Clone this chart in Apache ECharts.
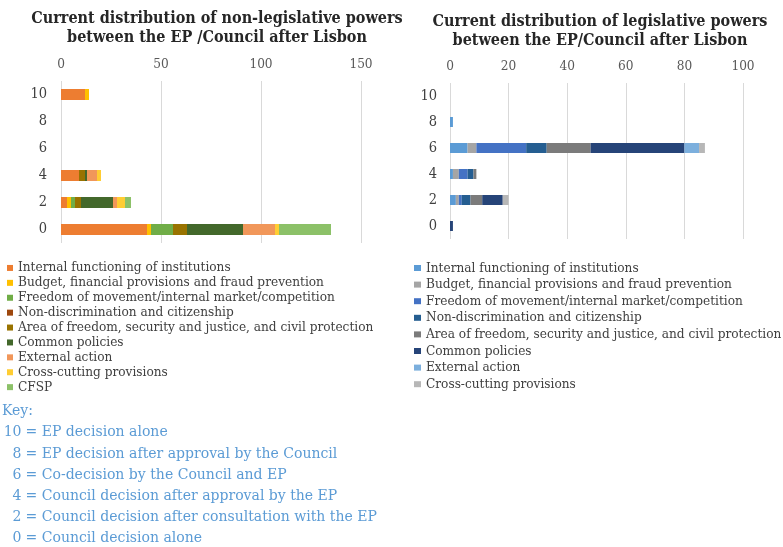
<!DOCTYPE html>
<html>
<head>
<meta charset="utf-8">
<script src="https://cdn.jsdelivr.net/npm/echarts@6/dist/echarts.min.js"></script>
<style>
  html, body { margin: 0; padding: 0; background: #fff; }
  #chart { width: 783px; height: 547px; }
</style>
</head>
<body>
<div id="chart"></div>
<script>
// Score scale: 0 = Council alone ... 10 = EP alone (bottom to top)
const scores = ['0', '2', '4', '6', '8', '10'];

const policyAreasNonLeg = [
  'Internal functioning of institutions',
  'Budget, financial provisions and fraud prevention',
  'Freedom of movement/internal market/competition',
  'Non-discrimination and citizenship',
  'Area of freedom, security and justice, and civil protection',
  'Common policies',
  'External action',
  'Cross-cutting provisions',
  'CFSP'
];
const policyAreasLeg = policyAreasNonLeg.slice(0, 8);

// Number of non-legislative provisions per score (0,2,4,6,8,10)
const nonLegInternal    = [43, 3, 9, 0, 0, 12];
const nonLegBudget      = [2, 2, 0, 0, 0, 2];
const nonLegFreedom     = [11, 2, 0, 0, 0, 0];
const nonLegNonDisc     = [0, 0, 0, 0, 0, 0];
const nonLegArea        = [7, 3, 3, 0, 0, 0];
const nonLegCommon      = [28, 16, 1, 0, 0, 0];
const nonLegExternal    = [16, 2, 5, 0, 0, 0];
const nonLegCrossCut    = [2, 4, 2, 0, 0, 0];
const nonLegCFSP        = [26, 3, 0, 0, 0, 0];

// Number of legislative provisions per score (0,2,4,6,8,10)
const legInternal = [0, 2, 1, 6, 1, 0];
const legBudget   = [0, 1, 2, 3, 0, 0];
const legFreedom  = [0, 1, 3, 17, 0, 0];
const legNonDisc  = [0, 3, 2, 7, 0, 0];
const legArea     = [0, 4, 1, 15, 0, 0];
const legCommon   = [1, 7, 0, 32, 0, 0];
const legExternal = [0, 0, 0, 5, 0, 0];
const legCrossCut = [0, 2, 0, 2, 0, 0];

const nonLegValues = [nonLegInternal, nonLegBudget, nonLegFreedom, nonLegNonDisc,
  nonLegArea, nonLegCommon, nonLegExternal, nonLegCrossCut, nonLegCFSP];
const legValues = [legInternal, legBudget, legFreedom, legNonDisc,
  legArea, legCommon, legExternal, legCrossCut];

const nonLegColors = ['#ED7D31', '#FFC000', '#70AD47', '#9E480E', '#997300',
  '#43682B', '#F1975A', '#FFCD33', '#8CC168'];
const legColors = ['#5B9BD5', '#A5A5A5', '#4472C4', '#255E91', '#7B7B7B',
  '#264478', '#7CAFDD', '#B7B7B7'];

const keyNumbers = ['10', '8', '6', '4', '2', '0'];
const keyTexts = [
  '= EP decision alone',
  '= EP decision after approval by the Council',
  '= Co-decision by the Council and EP',
  '= Council decision after approval by the EP',
  '= Council decision after consultation with the EP',
  '= Council decision alone'
];

const FONT = '"DejaVu Serif Condensed", "DejaVu Serif", serif';
const gridLine = { show: true, lineStyle: { color: '#D9D9D9', width: 1 } };

function valueAxis(gridIndex, max, interval) {
  return {
    type: 'value', gridIndex, position: 'top', min: 0, max, interval,
    axisLine: { show: false }, axisTick: { show: false },
    splitLine: gridLine,
    axisLabel: { color: '#595959', fontFamily: FONT, fontSize: 13.5, margin: 10 }
  };
}
function categoryAxis(gridIndex, margin) {
  return {
    type: 'category', gridIndex, data: scores,
    axisLine: { show: false }, axisTick: { show: false },
    axisLabel: { color: '#404040', fontFamily: FONT, fontSize: 14.5, margin }
  };
}

const series = [];
policyAreasNonLeg.forEach((name, i) => {
  series.push({
    type: 'bar', name, stack: 'nonleg', xAxisIndex: 0, yAxisIndex: 0,
    barWidth: 11, data: nonLegValues[i],
    itemStyle: { color: nonLegColors[i] }
  });
});
policyAreasLeg.forEach((name, i) => {
  series.push({
    type: 'bar', name, stack: 'leg', xAxisIndex: 1, yAxisIndex: 1,
    barWidth: 10, data: legValues[i],
    itemStyle: { color: legColors[i] }
  });
});

const KEY_FONT = '15.6px ' + FONT;
const keyGraphics = [{
  type: 'text', x: 2, y: 411,
  style: { text: 'Key:', font: KEY_FONT, fill: '#5B9BD5', verticalAlign: 'middle' }
}];
keyNumbers.forEach((n, i) => {
  const y = 432.3 + i * 21.2;
  keyGraphics.push({
    type: 'text', x: 21.5, y,
    style: { text: n, font: KEY_FONT, fill: '#5B9BD5', align: 'right', verticalAlign: 'middle' }
  });
  keyGraphics.push({
    type: 'text', x: 25.5, y,
    style: { text: keyTexts[i], font: KEY_FONT, fill: '#5B9BD5', align: 'left', verticalAlign: 'middle' }
  });
});

const legendText = { color: '#404040', fontFamily: FONT, fontSize: 13.5 };

const option = {
  animation: false,
  backgroundColor: '#ffffff',
  title: [
    {
      text: 'Current distribution of non-legislative powers\nbetween the EP /Council after Lisbon',
      left: 212, top: 4, textAlign: 'center',
      textStyle: { fontFamily: FONT, fontWeight: 'bold', fontSize: 16, color: '#262626', lineHeight: 19 }
    },
    {
      text: 'Current distribution of legislative powers\nbetween the EP/Council after Lisbon',
      left: 595, top: 7, textAlign: 'center',
      textStyle: { fontFamily: FONT, fontWeight: 'bold', fontSize: 16, color: '#262626', lineHeight: 19 }
    }
  ],
  grid: [
    { left: 61, top: 81, width: 300, height: 162 },
    { left: 450, top: 83, width: 293, height: 156 }
  ],
  xAxis: [valueAxis(0, 150, 50), valueAxis(1, 100, 20)],
  yAxis: [categoryAxis(0, 14), categoryAxis(1, 13)],
  legend: [
    {
      orient: 'vertical', left: 7, top: 260.5, padding: 0, itemGap: 0,
      itemWidth: 6, itemHeight: 6, icon: 'rect',
      data: policyAreasNonLeg.map((name, i) => ({ name, itemStyle: { color: nonLegColors[i] } })),
      textStyle: Object.assign({ lineHeight: 14.9 }, legendText)
    },
    {
      orient: 'vertical', left: 414, top: 259.7, padding: 0, itemGap: 0,
      itemWidth: 7, itemHeight: 6, icon: 'rect',
      data: policyAreasLeg.map((name, i) => ({ name, itemStyle: { color: legColors[i] } })),
      textStyle: Object.assign({ lineHeight: 16.6 }, legendText)
    }
  ],
  graphic: keyGraphics,
  series
};

const chart = echarts.init(document.getElementById('chart'), null, { renderer: 'canvas' });
chart.setOption(option);
</script>
</body>
</html>
